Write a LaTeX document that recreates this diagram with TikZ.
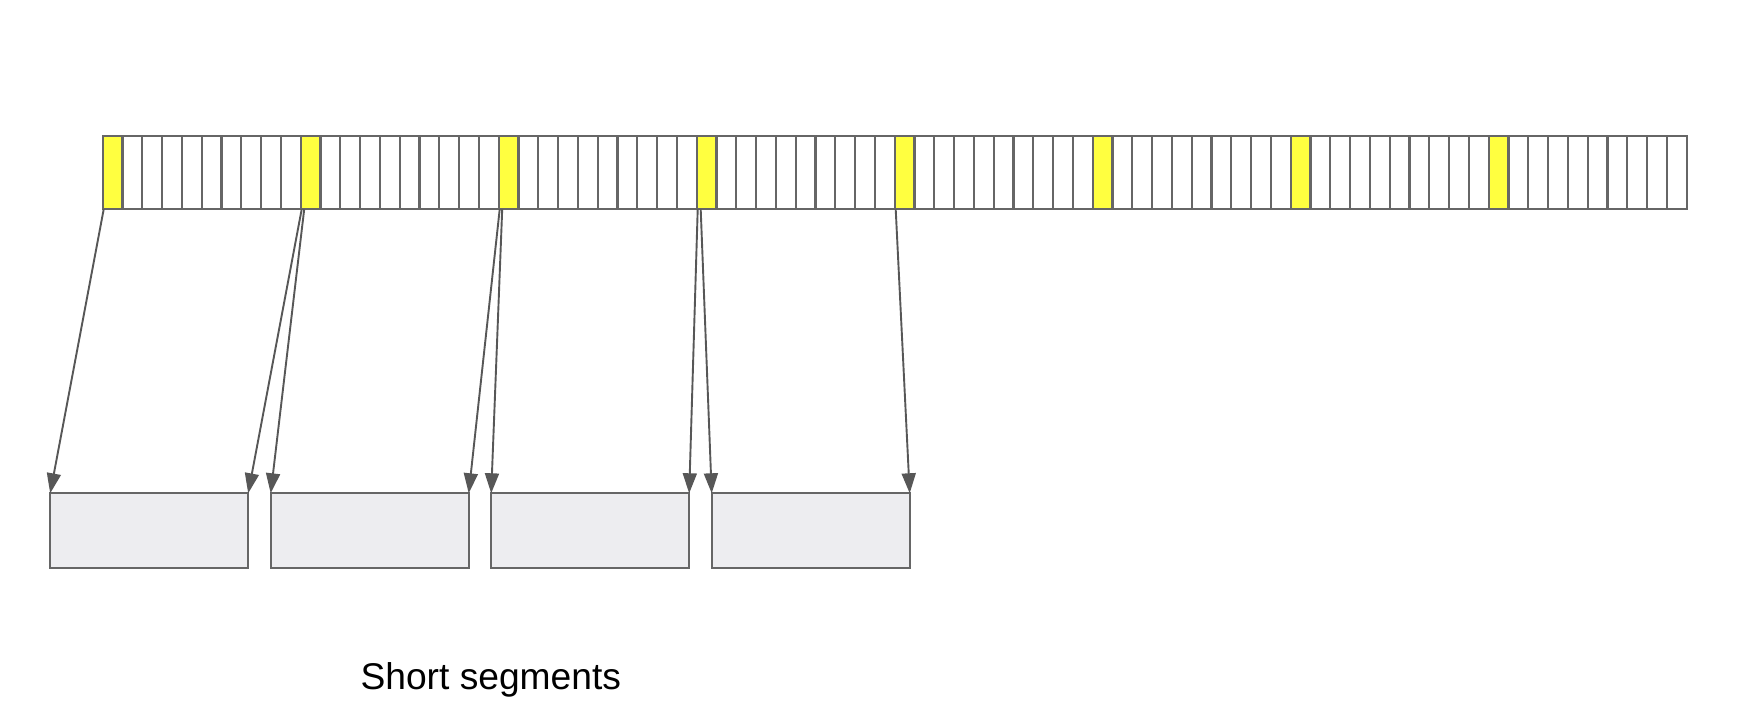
\documentclass[tikz,border=0pt]{standalone}
\usepackage{fontspec}
\setmainfont{Liberation Sans}
\usepackage{tikz}
\usetikzlibrary{positioning, arrows.meta}
\definecolor{cellyellow}{HTML}{FFFF40}
\definecolor{segfill}{HTML}{EDEDF0}
\definecolor{edgegray}{HTML}{666666}

\begin{document}
\begin{tikzpicture}[
        x=1pt, y=1pt,
        every node/.style={inner sep=0pt, outer sep=0pt},
        cellbox/.style={draw=edgegray, line width=2.2pt, minimum width=19.8pt, minimum height=73.6pt, fill=white},
        markbox/.style={cellbox, fill=cellyellow},
        segbox/.style={draw=edgegray, line width=2.2pt, minimum width=198pt, minimum height=75pt, fill=segfill},
        caption/.style={font=\fontsize{37.2}{44}\selectfont, text=black, anchor=base},
        arrowline/.style={-{Triangle[length=20pt, width=14pt]}, line width=1.9pt, draw=edgegray!85!black}
    ]
        \useasboundingbox (0,0) rectangle (1755,725);

        % the long buffer, one cell every 10 is marked
        \foreach \i in {0,...,79} {
            \pgfmathtruncatemacro\r{mod(\i,10)}
            \ifnum\r=0
                \node[markbox] (c\i) at ({112.6+19.8*\i}, 552.5) {};
            \else
                \node[cellbox] (c\i) at ({112.6+19.8*\i}, 552.5) {};
            \fi
        }

        % short segments
        \node[segbox] (seg1) at (149.2, 194.2) {};
        \node[segbox, right=22.5pt of seg1] (seg2) {};
        \node[segbox, right=22.5pt of seg2] (seg3) {};
        \node[segbox, right=22.5pt of seg3] (seg4) {};

        \node[caption] (label) at (490.8, 35) {Short segments};

        \draw[arrowline] ([xshift=1pt]c0.south west) -- (seg1.north west);
        \draw[arrowline] ([xshift=1pt]c10.south west) -- (seg1.north east);
        \draw[arrowline] ([xshift=3.5pt]c10.south west) -- (seg2.north west);
        \draw[arrowline] ([xshift=1pt]c20.south west) -- (seg2.north east);
        \draw[arrowline] ([xshift=3.5pt]c20.south west) -- (seg3.north west);
        \draw[arrowline] ([xshift=1pt]c30.south west) -- (seg3.north east);
        \draw[arrowline] ([xshift=4pt]c30.south west) -- (seg4.north west);
        \draw[arrowline] ([xshift=1pt]c40.south west) -- (seg4.north east);
    \end{tikzpicture}
\end{document}
